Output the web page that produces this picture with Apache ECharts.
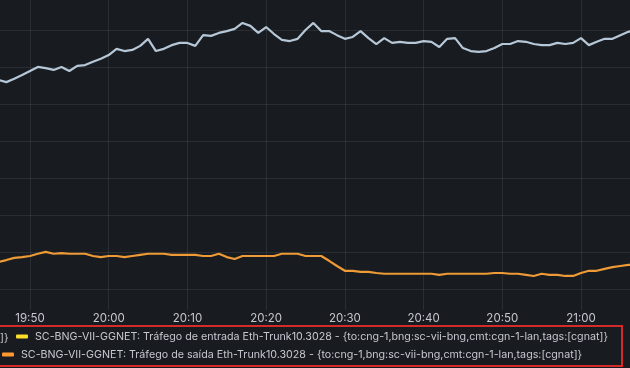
<!DOCTYPE html>
<html>
<head>
<meta charset="utf-8">
<script src="https://cdn.jsdelivr.net/npm/echarts@6/dist/echarts.min.js"></script>
<style>
  html, body { margin: 0; padding: 0; background: #181b1f; }
  #chart { width: 630px; height: 368px; }
</style>
</head>
<body>
<div id="chart"></div>
<script>
// x sampling: one point per minute starting at 19:46 (minutes after 19:00)
const startMinute = 46;
const tickLabels = ['19:50', '20:00', '20:10', '20:20', '20:30', '20:40', '20:50', '21:00'];
const tickMinutes = [50, 60, 70, 80, 90, 100, 110, 120];

const nameIn = 'SC-BNG-VII-GGNET: Tráfego de entrada Eth-Trunk10.3028 - {to:cng-1,bng:sc-vii-bng,cmt:cgn-1-lan,tags:[cgnat]}';
const nameOut = 'SC-BNG-VII-GGNET: Tráfego de saída Eth-Trunk10.3028 - {to:cng-1,bng:sc-vii-bng,cmt:cgn-1-lan,tags:[cgnat]}';

// traffic (Gb/s-like units, gridlines at 1-unit steps)
const inValues = [5.65, 5.59, 5.68, 5.78, 5.89, 6.00, 5.97, 5.92, 6.00, 5.89,
  6.03, 6.05, 6.14, 6.22, 6.32, 6.49, 6.43, 6.46, 6.57, 6.76,
  6.43, 6.49, 6.59, 6.65, 6.65, 6.57, 6.86, 6.84, 6.92, 6.97,
  7.03, 7.19, 7.11, 6.92, 7.08, 6.89, 6.73, 6.70, 6.76, 7.00,
  7.19, 6.97, 6.97, 6.86, 6.76, 6.81, 6.97, 6.78, 6.62, 6.78,
  6.65, 6.68, 6.65, 6.65, 6.70, 6.68, 6.54, 6.76, 6.78, 6.51,
  6.43, 6.41, 6.43, 6.51, 6.62, 6.62, 6.70, 6.68, 6.62, 6.59,
  6.59, 6.65, 6.62, 6.65, 6.78, 6.59, 6.68, 6.76, 6.76, 6.86,
  6.95, 7.00];
const outValues = [0.73, 0.78, 0.84, 0.86, 0.89, 0.95, 1.00, 0.95, 0.97, 0.95,
  0.95, 0.95, 0.89, 0.86, 0.89, 0.89, 0.86, 0.89, 0.92, 0.95,
  0.95, 0.95, 0.92, 0.92, 0.92, 0.92, 0.89, 0.89, 0.95, 0.86,
  0.81, 0.89, 0.89, 0.89, 0.89, 0.89, 0.95, 0.95, 0.95, 0.89,
  0.89, 0.89, 0.76, 0.62, 0.49, 0.49, 0.46, 0.46, 0.43, 0.41,
  0.41, 0.41, 0.41, 0.41, 0.41, 0.41, 0.38, 0.41, 0.41, 0.41,
  0.41, 0.41, 0.41, 0.43, 0.43, 0.41, 0.41, 0.38, 0.35, 0.41,
  0.38, 0.38, 0.35, 0.35, 0.43, 0.49, 0.49, 0.54, 0.59, 0.62,
  0.65, 0.65];

const pairs = vals => vals.map((v, i) => [startMinute + i, v]);

const chart = echarts.init(document.getElementById('chart'), null, { renderer: 'canvas' });
const gridColor = 'rgba(204,204,220,0.1)';
const textColor = '#c7c7d1';
const font = 'Inter, "Noto Sans", sans-serif';

chart.setOption({
  backgroundColor: '#181b1f',
  animation: false,
  grid: { left: 0, right: 0, top: 0, bottom: 58, containLabel: false },
  xAxis: {
    type: 'value',
    min: 46.19, max: 126.225,
    splitNumber: 8,
    axisLine: { show: false },
    axisTick: { show: false },
    splitLine: { show: true, showMinLine: false, showMaxLine: false, lineStyle: { color: gridColor, width: 1 } },
    axisLabel: {
      show: true, showMinLabel: false, showMaxLabel: false,
      color: textColor, fontFamily: font, fontSize: 11.5, margin: 3,
      formatter: v => { const k = tickMinutes.indexOf(Math.round(v)); return k >= 0 ? tickLabels[k] : ''; }
    }
  },
  yAxis: {
    type: 'value',
    min: -0.57, max: 7.81,
    splitNumber: 8,
    axisLine: { show: false },
    axisTick: { show: false },
    axisLabel: { show: false },
    splitLine: { show: true, showMinLine: false, showMaxLine: false, lineStyle: { color: gridColor, width: 1 } }
  },
  legend: [
    {
      left: 16, top: 331, padding: 0, itemWidth: 12, itemHeight: 4, icon: 'roundRect',
      data: [{ name: nameIn, itemStyle: { color: '#fade2a' } }],
      textStyle: { color: textColor, fontFamily: font, fontSize: 10.7, padding: [0, 0, 0, 2] }
    },
    {
      left: 2, top: 349, padding: 0, itemWidth: 12, itemHeight: 4, icon: 'roundRect',
      data: [{ name: nameOut, itemStyle: { color: '#ff9830' } }],
      textStyle: { color: textColor, fontFamily: font, fontSize: 10.7, padding: [0, 0, 0, 2] }
    }
  ],
  graphic: [
    { type: 'text', left: 0, top: 332, style: { text: ']}', fill: textColor, font: '10.7px ' + font } },
    { type: 'rect', shape: { x: -5, y: 326, width: 627, height: 40 }, style: { fill: 'none', stroke: '#d42a2a', lineWidth: 2 }, z: 100 }
  ],
  series: [
    {
      name: nameIn, type: 'line', data: pairs(inValues), showSymbol: false,
      lineStyle: { color: '#b6c8d8', width: 2.2 }, itemStyle: { color: '#b6c8d8' }
    },
    {
      name: nameOut, type: 'line', data: pairs(outValues), showSymbol: false,
      lineStyle: { color: '#ee9a36', width: 2.2 }, itemStyle: { color: '#ee9a36' }
    }
  ]
});
</script>
</body>
</html>
